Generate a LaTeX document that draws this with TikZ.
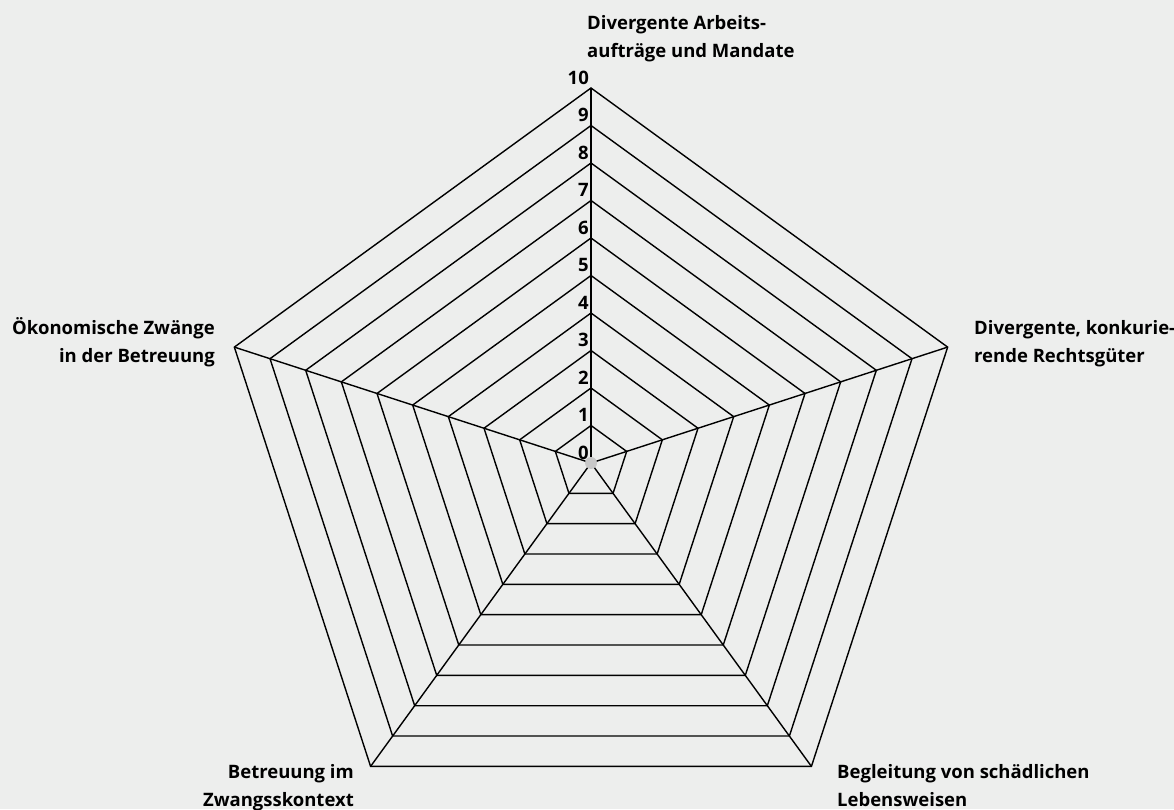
\documentclass[tikz,border=0pt]{standalone}
\usepackage{fontspec}
\setmainfont{Open Sans}
\usetikzlibrary{calc}
\definecolor{bg}{RGB}{237,238,237}
\definecolor{dotgray}{RGB}{200,200,200}
\begin{document}
\begin{tikzpicture}[x=1pt,y=1pt,
  grid/.style={line width=1.4pt, black, line join=miter},
  lab/.style={font=\bfseries\fontsize{18.5}{28}\selectfont, inner sep=0pt},
  num/.style={font=\bfseries\fontsize{18.5}{20}\selectfont, inner sep=0pt, anchor=south east}]
\fill[bg] (0,0) rectangle (1174,809);
\useasboundingbox (0,0) rectangle (1174,809);
\coordinate (c) at (591,346);
% rings
\foreach \k in {1,...,10} {
  \draw[grid, shift={(c)}] (90:\k*37.5) -- (18:\k*37.5) -- (-54:\k*37.5) -- (-126:\k*37.5) -- (162:\k*37.5) -- cycle;
}
% spokes
\foreach \a/\n in {90/t,18/r,-54/br,-126/bl,162/l} {
  \coordinate (v\n) at ($(c)+(\a:375)$);
  \draw[grid] (c) -- (v\n);
}
\node[circle, fill=dotgray, minimum size=12pt, inner sep=0pt] (dot) at (c) {};
% scale numbers
\foreach \k in {0,...,10} {
  \node[num] (n\k) at (589,{346+\k*37.5+3.5}) {\k};
}
% axis labels
\node[lab, anchor=north west, align=left] (lt) at (587,794) {Divergente Arbeits-\\aufträge und Mandate};
\node[lab, anchor=north west, align=left] (lr) at (974,489) {Divergente, konkurie-\\rende Rechtsgüter};
\node[lab, anchor=north east, align=right] (ll) at (215,492) {Ökonomische Zwänge\\in der Betreuung};
\node[lab, anchor=north east, align=right] (lbl) at (354,45) {Betreuung im\\Zwangsskontext};
\node[lab, anchor=north west, align=left] (lbr) at (837,45) {Begleitung von schädlichen\\Lebensweisen};
\end{tikzpicture}
\end{document}
